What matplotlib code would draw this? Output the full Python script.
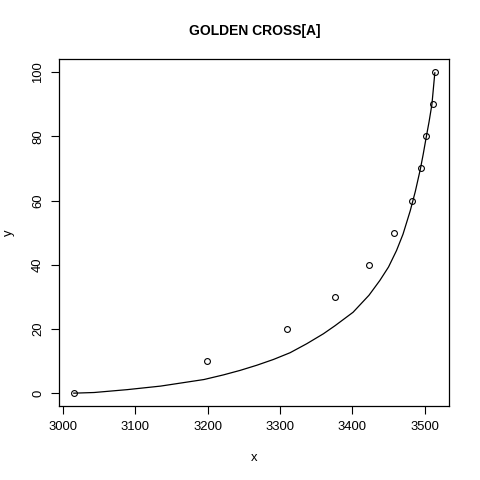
import matplotlib
matplotlib.use("Agg")
import matplotlib.pyplot as plt

# observed points
pts_x = [3015, 3199, 3310, 3376, 3423, 3457, 3482, 3495, 3502, 3512, 3514]
pts_y = [0, 10, 20, 30, 40, 50, 60, 70, 80, 90, 100]

# fitted curve
curve_x = [3015, 3043, 3089, 3135, 3195, 3222, 3245, 3268, 3291, 3314, 3337,
           3360, 3376, 3401, 3423, 3438, 3450, 3461, 3470, 3480, 3487, 3494,
           3498, 3502, 3506, 3510, 3514]
curve_y = [0, 0.2, 1.1, 2.2, 4.25, 5.7, 7.1, 8.7, 10.5, 12.6, 15.4,
           18.5, 21, 25.2, 30.5, 35.1, 39.3, 44.4, 49.5, 56.8, 62.8, 69.8,
           74.5, 79.6, 84.5, 90, 99.8]

x_ticks = [3000, 3100, 3200, 3300, 3400, 3500]
y_ticks = [0, 20, 40, 60, 80, 100]

plt.rcParams['font.family'] = ['Liberation Sans', 'DejaVu Sans']

fig = plt.figure(figsize=(4.8, 4.8), dpi=100)
ax = fig.add_axes([59.3/480, 1-406/480, (449.3-59.3)/480, (406-59.3)/480])

ax.plot(curve_x, curve_y, color='black', lw=0.9)
ax.plot(pts_x, pts_y, linestyle='none', marker='o', markersize=4.2,
        markerfacecolor='none', markeredgecolor='black', markeredgewidth=0.8)

ax.set_xlim(2995, 3534)
ax.set_ylim(-4, 104)
ax.set_xticks(x_ticks)
ax.set_yticks(y_ticks)
ax.set_xticklabels([str(v) for v in x_ticks])
ax.set_yticklabels([str(v) for v in y_ticks], rotation=90, va='center')
ax.tick_params(axis='both', direction='out', length=5.5, width=0.8,
               labelsize=9.4, pad=5.5, color='black')
for s in ax.spines.values():
    s.set_linewidth(0.9)

ax.set_xlabel('x', fontsize=9.4)
ax.xaxis.set_label_coords(0.5, -0.15)
ax.xaxis.label.set_va('center')
ax.set_ylabel('y', fontsize=9.4)
ax.yaxis.set_label_coords(-0.128, 0.5)
ax.yaxis.label.set_va('center')

ax.text(0.5, 1.0816, 'GOLDEN CROSS[A]', transform=ax.transAxes,
        ha='center', va='center', fontsize=10.0, fontweight='bold')

fig.savefig('out.png', dpi=100)
